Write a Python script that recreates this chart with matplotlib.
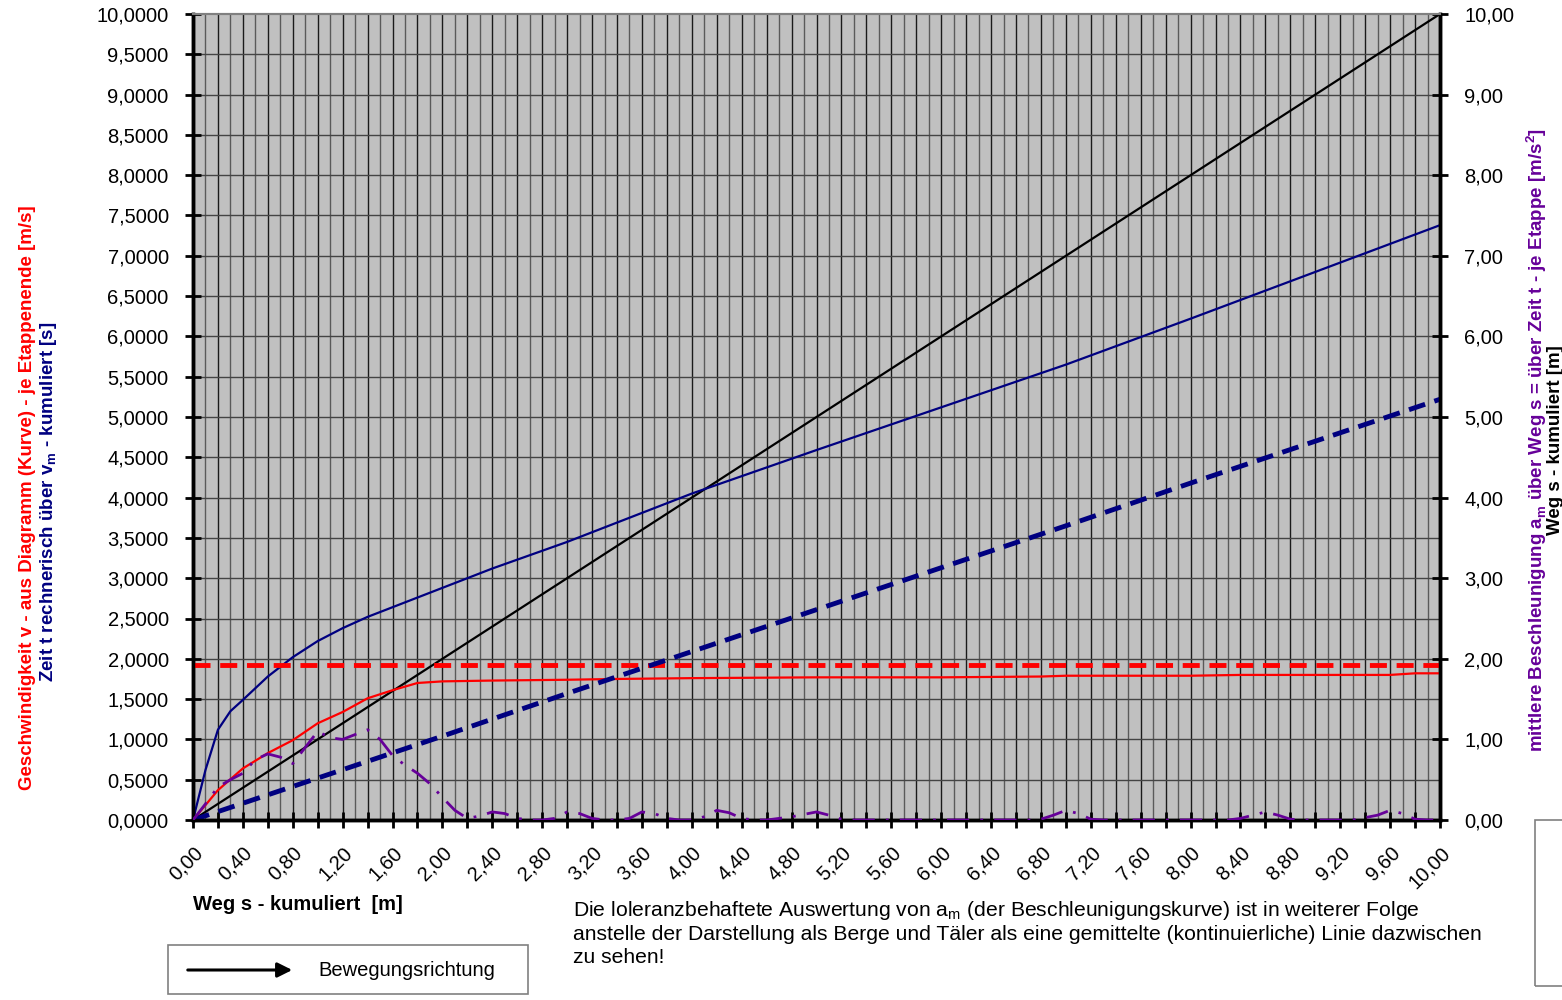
import matplotlib
matplotlib.use("Agg")
import matplotlib.pyplot as plt
import numpy as np
from matplotlib.patches import Rectangle, FancyArrowPatch
from matplotlib.ticker import FuncFormatter, MultipleLocator

plt.rcParams["font.family"] = ["Liberation Sans", "DejaVu Sans"]

# ---- Daten ----
s_t = [0, 0.1, 0.2, 0.3, 0.4, 0.6, 0.8, 1.0, 1.2, 1.4, 1.6, 2.0, 2.4, 3.0,
       4.0, 5.0, 6.0, 7.0, 8.0, 9.0, 10.0]
t_cum = [0, 0.62, 1.12, 1.35, 1.49, 1.78, 2.02, 2.22, 2.38, 2.52, 2.64, 2.88,
         3.12, 3.45, 4.05, 4.59, 5.12, 5.65, 6.22, 6.80, 7.38]

s_v = [0, 0.2, 0.4, 0.6, 0.8, 1.0, 1.2, 1.4, 1.6, 1.8, 2.0, 2.4, 3.0, 3.4,
       4.0, 5.0, 6.0, 6.8, 7.0, 8.0, 8.4, 9.6, 9.8, 10.0]
v_diag = [0, 0.37, 0.64, 0.83, 0.99, 1.20, 1.34, 1.51, 1.61, 1.70, 1.72, 1.73,
          1.74, 1.75, 1.76, 1.77, 1.77, 1.78, 1.79, 1.79, 1.80, 1.80, 1.82, 1.82]

s_vm = [0, 10]
v_mean = [1.92, 1.92]

s_tm = [0, 1, 2, 3, 4, 5, 6, 7, 8, 9, 10]
t_vm = [0, 0.52, 1.04, 1.57, 2.09, 2.61, 3.13, 3.65, 4.18, 4.70, 5.22]

s_w = [0, 10]
weg = [0, 10]

s_a = [round(0.1 * i, 1) for i in range(101)]
a_m = [0.00, 0.20, 0.41, 0.50, 0.58, 0.75, 0.82, 0.78, 0.70, 0.90,
       1.10, 1.02, 1.00, 1.06, 1.12, 1.00, 0.80, 0.68, 0.58, 0.45,
       0.28, 0.12, 0.02, 0.05, 0.10, 0.08, 0.02, 0.00, 0.00, 0.02,
       0.10, 0.08, 0.02, 0.00, 0.00, 0.02, 0.10, 0.08, 0.02, 0.00,
       0.00, 0.04, 0.12, 0.09, 0.02, 0.00, 0.00, 0.02, 0.04, 0.07,
       0.10, 0.06, 0.01, 0.00, 0.00, 0.00, 0.00, 0.00, 0.00, 0.00,
       0.00, 0.00, 0.00, 0.00, 0.00, 0.00, 0.00, 0.00, 0.01, 0.06,
       0.12, 0.08, 0.01, 0.00, 0.00, 0.00, 0.00, 0.00, 0.00, 0.00,
       0.00, 0.00, 0.00, 0.00, 0.02, 0.06, 0.10, 0.06, 0.01, 0.00,
       0.00, 0.00, 0.00, 0.00, 0.03, 0.06, 0.12, 0.08, 0.01, 0.00,
       0.00]

RED = "#ff0000"
NAVY = "#000080"
PURPLE = "#660099"

fig = plt.figure(figsize=(15.62, 10), dpi=100)
ax = fig.add_axes([193 / 1562, 0.18, (1440 - 193) / 1562, 0.806])
ax.set_facecolor("#c0c0c0")
ax.set_xlim(0, 10)
ax.set_ylim(0, 10)

# Gitter
for xv in np.arange(0.1, 10.0, 0.1):
    col = "#1a1a1a" if round(xv * 10) % 2 == 0 else "#5a5a5a"
    ax.axvline(xv, color=col, lw=1.0, zorder=1)
for yv in np.arange(0.5, 10.0, 0.5):
    ax.axhline(yv, color="#444444", lw=1.0, zorder=1)

ax2 = ax.twinx()
ax2.set_ylim(0, 10)

ax.plot(s_w, weg, color="black", lw=1.6, zorder=5)
ax.plot(s_t, t_cum, color=NAVY, lw=1.6, zorder=5)
ax.plot(s_v, v_diag, color=RED, lw=1.6, zorder=5)
ax.plot(s_vm, v_mean, color=RED, lw=3.5, dashes=(3.5, 2), zorder=5)
ax.plot(s_tm, t_vm, color=NAVY, lw=3.5, dashes=(3.5, 2), zorder=5)
ax2.plot(s_a, a_m, color=PURPLE, lw=2, dashes=(8, 4, 1, 4), zorder=5)

# Achsen
for a in (ax, ax2):
    for sp in ("left", "right", "bottom"):
        a.spines[sp].set_linewidth(2.5)
    a.spines["top"].set_color("#808080")
    a.spines["top"].set_linewidth(1.5)

ax.xaxis.set_major_locator(MultipleLocator(0.4))
ax.xaxis.set_minor_locator(MultipleLocator(0.2))
ax.yaxis.set_major_locator(MultipleLocator(0.5))
ax2.yaxis.set_major_locator(MultipleLocator(1.0))
ax.xaxis.set_major_formatter(FuncFormatter(lambda v, p: f"{v:.2f}".replace(".", ",")))
ax.yaxis.set_major_formatter(FuncFormatter(lambda v, p: f"{v:.4f}".replace(".", ",")))
ax2.yaxis.set_major_formatter(FuncFormatter(lambda v, p: f"{v:.2f}".replace(".", ",")))
ax.tick_params(axis="both", which="both", direction="inout", length=11, width=2,
               labelsize=14.5, pad=6)
ax.tick_params(axis="y", pad=12)
ax2.tick_params(axis="y", direction="inout", length=11, width=2, labelsize=14.5, pad=12)
ax.tick_params(axis="x", pad=11)
for lab in ax.get_xticklabels():
    lab.set_rotation(45)
    lab.set_ha("right")
    lab.set_rotation_mode("anchor")

# Achsentitel
fig.text(28 / 1562, 0.502, "Geschwindigkeit v - aus Diagramm (Kurve) - je Etappenende [m/s]",
         rotation=90, color=RED, fontsize=13.5, fontweight="bold", ha="center", va="center")
fig.text(49 / 1562, 0.498, "Zeit t rechnerisch über v$_\\mathregular{m}$ - kumuliert [s]",
         rotation=90, color=NAVY, fontsize=13.5, fontweight="bold", ha="center", va="center")
fig.text(1537 / 1562, 0.56,
         "mittlere Beschleunigung a$_\\mathregular{m}$ über Weg s = über Zeit t - je Etappe [m/s$^\\mathregular{2}$]",
         rotation=90, color=PURPLE, fontsize=13.5, fontweight="bold", ha="center", va="center")
fig.text(1556 / 1562, 0.56, "Weg s - kumuliert [m]",
         rotation=90, color="black", fontsize=13.5, fontweight="bold", ha="center", va="center")

fig.text(193 / 1562, 1 - 905 / 1000, "Weg s - kumuliert  [m]", fontsize=14.5,
         fontweight="bold", ha="left", va="center")

fig.text(573 / 1562, 1 - 899 / 1000,
         "Die loleranzbehaftete Auswertung von a$_\\mathregular{m}$ (der Beschleunigungskurve) ist in weiterer Folge\n"
         "anstelle der Darstellung als Berge und Täler als eine gemittelte (kontinuierliche) Linie dazwischen\n"
         "zu sehen!",
         fontsize=15.2, ha="left", va="top", linespacing=1.22)

# Legendenkasten Bewegungsrichtung
fig.patches.append(Rectangle((168 / 1562, 1 - 994 / 1000), 360 / 1562, 49 / 1000,
                             transform=fig.transFigure, fill=False,
                             edgecolor="#808080", lw=1.2))
fig.patches.append(FancyArrowPatch((185 / 1562, 1 - 970 / 1000), (295 / 1562, 1 - 970 / 1000),
                                   transform=fig.transFigure, arrowstyle="-|>",
                                   mutation_scale=22, color="black", lw=2.2))
fig.text(318 / 1562, 1 - 970 / 1000, "Bewegungsrichtung", fontsize=14.5,
         ha="left", va="center")

# abgeschnittener Kasten rechts unten
fig.patches.append(Rectangle((1535 / 1562, 1 - 986 / 1000), 40 / 1562, 166 / 1000,
                             transform=fig.transFigure, fill=False,
                             edgecolor="#808080", lw=1.2))

fig.savefig("out.png", dpi=100)
